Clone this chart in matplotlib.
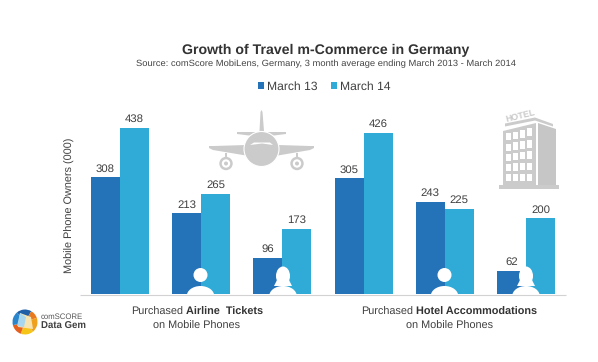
import matplotlib
matplotlib.use("Agg")
import matplotlib.pyplot as plt
from matplotlib.patches import Circle, Ellipse, Polygon, Rectangle, Wedge, FancyBboxPatch

plt.rcParams['font.family'] = ['Liberation Sans', 'DejaVu Sans']
plt.rcParams['text.hinting'] = 'no_hinting'
plt.rcParams['text.hinting_factor'] = 8

series_names = ["March 13", "March 14"]
march13 = [308, 213, 96, 305, 243, 62]
march14 = [438, 265, 173, 426, 225, 200]
title = "Growth of Travel m-Commerce in Germany"
subtitle = "Source: comScore MobiLens, Germany, 3 month average ending March 2013 - March 2014"
ylabel = "Mobile Phone Owners (000)"

C13, C14 = "#2473B9", "#30ABD8"
GREY = "#CBCBCB"
TXT = "#404040"
W, H = 598, 362

fig = plt.figure(figsize=(W/100, H/100), dpi=100, facecolor="white")

# ---- bars
L, R, T, B = 80, 566, 100, 294.4
ax = fig.add_axes([L/W, 1-B/H, (R-L)/W, (B-T)/H])
ax.set_xlim((L-120)/81.2, (R-120)/81.2)
ax.set_ylim(0, (B-T)/0.38)
bw = 29/81.2
xs = list(range(len(march13)))
b1 = ax.bar([x-bw/2 for x in xs], march13, bw, color=C13, label=series_names[0], zorder=2)
b2 = ax.bar([x+bw/2 for x in xs], march14, bw, color=C14, label=series_names[1], zorder=2)
for bars, vals in ((b1, march13), (b2, march14)):
    for r, v in zip(bars, vals):
        ax.annotate(str(v), (r.get_x()+r.get_width()/2, v), xytext=(0, 2.6),
                    textcoords="offset points", ha="center", va="bottom",
                    fontsize=8.2, color=TXT, zorder=3)
ax.set_xticks([]); ax.set_yticks([])
for s in ("top", "right", "left"):
    ax.spines[s].set_visible(False)
ax.spines["bottom"].set_visible(False)
ax.patch.set_alpha(0)

leg = ax.legend(handles=[b1, b2], loc="center left", ncols=2, frameon=False,
                bbox_to_anchor=((258-L)/(R-L), 1-(86.7-T)/(B-T)), bbox_transform=ax.transAxes,
                fontsize=8.7, handlelength=0.53, handleheight=0.53, handletextpad=0.25,
                columnspacing=1.05, borderpad=0, borderaxespad=0, labelcolor=TXT)

# ---- overlay in pixel coordinates (icons and free text)
ov = fig.add_axes([0, 0, 1, 1], zorder=5)
ov.set_xlim(0, W); ov.set_ylim(H, 0); ov.axis("off"); ov.patch.set_alpha(0)

ov.text(325.5, 50.7, title, ha="center", va="center", fontsize=10.2, fontweight="bold", color="#333333")
ov.text(325.5, 64, subtitle, ha="center", va="center", fontsize=6.76, color="#444444")
ov.text(69.5, 205, ylabel, rotation=90, ha="center", va="center", fontsize=7.8, color=TXT)

def two_part(cx, y, a, b):
    r = fig.canvas.get_renderer()
    ta = ov.text(0, y, a, ha="left", va="center", fontsize=7.8, color=TXT)
    tb = ov.text(0, y, b, ha="left", va="center", fontsize=7.8, color="#333333", fontweight="bold")
    wa = ta.get_window_extent(r).width + 3
    wb = tb.get_window_extent(r).width
    x0 = cx - (wa+wb)/2
    ta.set_x(x0); tb.set_x(x0+wa)
two_part(197, 312.5, "Purchased", "Airline  Tickets")
ov.text(197, 326, "on Mobile Phones", ha="center", va="center", fontsize=7.8, color=TXT)
two_part(449.5, 312.5, "Purchased", "Hotel Accommodations")
ov.text(449.5, 326, "on Mobile Phones", ha="center", va="center", fontsize=7.8, color=TXT)

# people
def person(cx, female=False):
    base = 294.4
    ov.add_patch(FancyBboxPatch((cx-9, 291), 18, 8, boxstyle="round,pad=0,rounding_size=1", fc="white", ec="none", zorder=6))
    ov.add_patch(Ellipse((cx, 296), 27.5, 20, fc="white", ec="none", zorder=6))
    ov.add_patch(Rectangle((cx-16, base), 32, 10, fc="white", ec="none", zorder=6.5))
    if female:
        ov.add_patch(Ellipse((cx, 276), 14, 19, fc="white", ec="none", zorder=6))
        ov.add_patch(Polygon([(cx-9, 286), (cx+9, 286), (cx+5, 278), (cx-5, 278)], fc="white", ec="none", zorder=6))
    else:
        ov.add_patch(Circle((cx, 275), 7, fc="white", ec="none", zorder=6))
for cx, f in ((200.5, False), (283, True), (444.5, False), (526, True)):
    person(cx, f)
# baseline over the people
ov.plot([L, R], [294.6, 294.6], color="#D2D2D2", lw=0.8, zorder=7, solid_capstyle="butt")

# plane
g = GREY
ov.add_patch(Polygon([(259.5, 131), (260.5, 112), (261.5, 110), (262.5, 112), (264, 131)], fc=g, ec="none"))
ov.add_patch(Polygon([(237, 132), (286, 132), (286, 134), (270, 136), (253, 136), (237, 134)], fc=g, ec="none"))
ov.add_patch(Polygon([(209, 146), (214, 146), (246, 145), (246, 155.5), (213, 150), (209, 148)], fc=g, ec="none"))
ov.add_patch(Polygon([(314, 146), (310, 146), (278, 145), (278, 155.5), (310, 150), (314, 148)], fc=g, ec="none"))
ov.add_patch(Circle((261.5, 149), 17.5, fc=g, ec="white", lw=0.8, zorder=3))
ov.add_patch(Polygon([(250, 145), (254, 142.5), (270, 142.5), (273, 145), (262, 143.5)], fc="white", ec="none", zorder=3.5))
for cx in (226, 297):
    ov.add_patch(Rectangle((cx-1, 153), 2, 5, fc=g, ec="none"))
    ov.add_patch(Circle((cx, 163.5), 6.7, fc=g, ec="none"))
    ov.add_patch(Circle((cx, 163.5), 4.2, fc="white", ec="none", zorder=3))
    ov.add_patch(Circle((cx, 163.5), 2, fc=g, ec="none", zorder=3.5))

# hotel
ov.add_patch(Rectangle((499, 184.5), 60, 4.5, fc=g, ec="none"))
ov.add_patch(Polygon([(503, 131), (536, 123), (536, 185), (503, 185)], fc=g, ec="none"))
ov.add_patch(Polygon([(538, 123), (556, 129), (556, 185), (538, 185)], fc="#C6C6C6", ec="none"))
ov.add_patch(Polygon([(505, 123.5), (535, 117.5), (553, 124), (553, 126.5), (535, 120.5), (505, 126.5)], fc=g, ec="none"))
for i in range(4):
    for j in range(5):
        x = 505.5 + i*7.2
        y = 133.3 + j*10.2 - i*1.7*(1-j/4)
        ov.add_patch(Rectangle((x, y), 5.2, 7 + i*0.4*(1-j/4), fc="white", ec="none", zorder=3))
ov.text(520, 116.5, "HOTEL", rotation=14, ha="center", va="center", fontsize=6.4, fontweight="bold", color=g)

# logo
cx, cy, rr = 25, 322, 12.5
for a0, a1, c in ((-20, 50, "#F0A11C"), (50, 110, "#F6C51A"), (110, 165, "#E4601E"),
                  (165, 230, "#2A86CC"), (230, 300, "#1F5FA8"), (300, 340, "#E9791E")):
    ov.add_patch(Wedge((cx, cy), rr, a0, a1, fc=c, ec="none"))
ov.add_patch(Polygon([(cx-5, cy-9), (cx+6, cy-5), (cx+8, cy+7), (cx-7, cy+5)], fc="#F6E3B0", ec="none"))
ov.add_patch(Polygon([(cx-5, cy-9), (cx+1, cy-5), (cx-1, cy+5), (cx-8, cy+4)], fc="#A9D6EF", ec="none"))
ov.text(40.7, 317, "comSCORE", ha="left", va="center", fontsize=5.6, color="#555555")
ov.text(40.7, 326.5, "Data Gem", ha="left", va="center", fontsize=6.9, fontweight="bold", color="#404040")

fig.savefig("out.png", dpi=100, facecolor="white")
